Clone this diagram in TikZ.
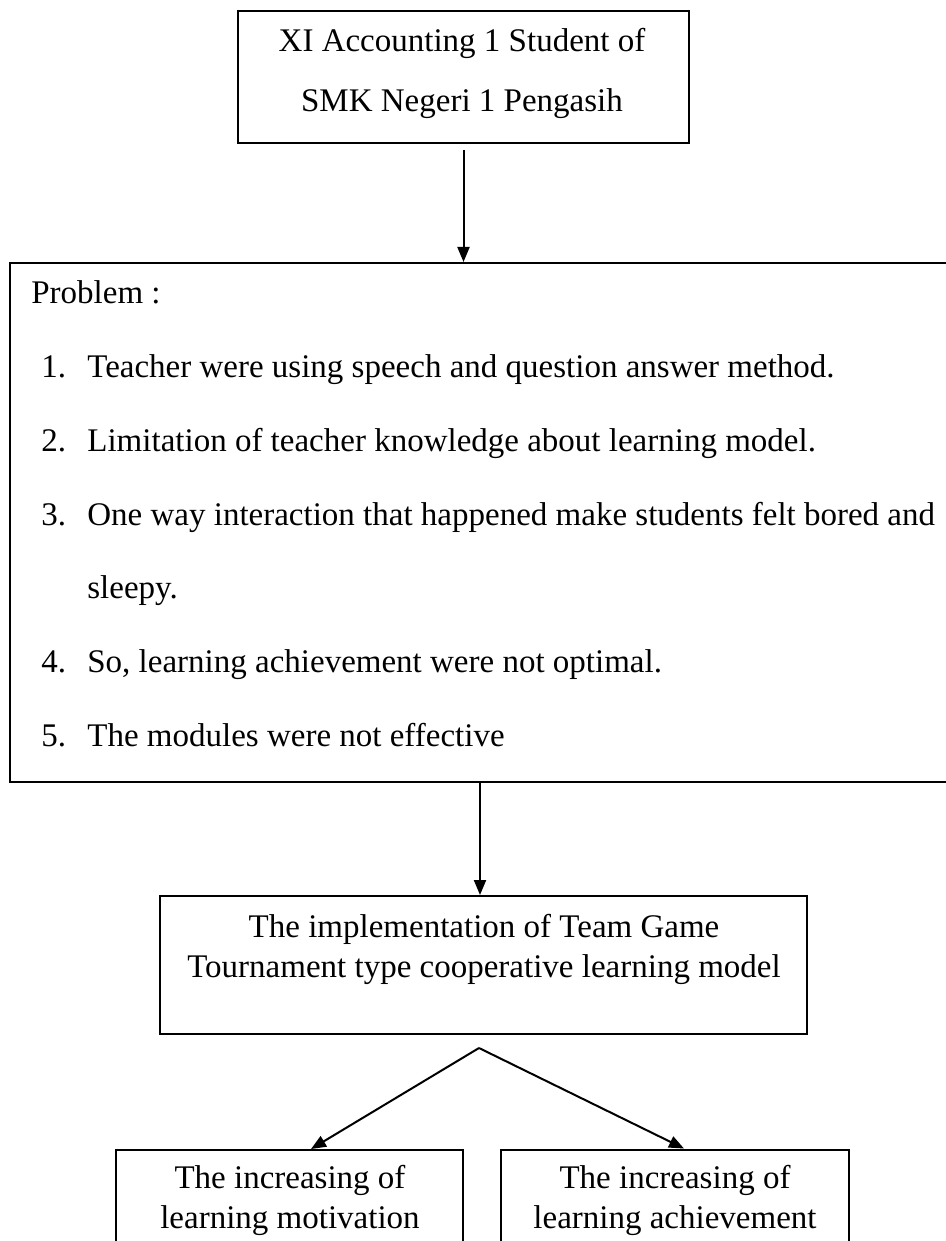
\documentclass[tikz,border=0pt]{standalone}
\usepackage{fontspec}
\setmainfont{Liberation Serif}
\usetikzlibrary{arrows.meta}
\begin{document}
\begin{tikzpicture}[x=0.5pt,y=-0.5pt,
  box/.style={draw=black,line width=1pt,inner sep=0pt},
  txt/.style={inner sep=0pt,font=\fontsize{16.5}{20}\selectfont},
  ctxt/.style={txt,anchor=base},
  ltxt/.style={txt,anchor=base west},
  arr/.style={line width=1pt,-{Triangle[length=7.5pt,width=6pt]}}]
\useasboundingbox (0,0) rectangle (946,1241);
% boxes
\node[box,minimum width=225.5pt,minimum height=66pt] (top) at (463.5,77) {};
\node[box,minimum width=470pt,minimum height=259.5pt] (prob) at (480,522.5) {};
\node[box,minimum width=323.5pt,minimum height=69pt] (impl) at (483.5,965) {};
\node[box,minimum width=173.5pt,minimum height=55pt] (lb) at (289.5,1205) {};
\node[box,minimum width=174pt,minimum height=55pt] (rb) at (675,1204.5) {};
% top text
\node[ctxt] (t1) at (462,52) {XI Accounting 1 Student of};
\node[ctxt] (t2) at (462,112) {SMK Negeri 1 Pengasih};
% problem text
\node[ltxt] (p0) at (31,303) {Problem :};
\node[ltxt] (n1) at (41,377) {1.};
\node[ltxt] (p1) at (87,377) {Teacher were using speech and question answer method.};
\node[ltxt] (n2) at (41,451) {2.};
\node[ltxt] (p2) at (87,451) {Limitation of teacher knowledge about learning model.};
\node[ltxt] (n3) at (41,525) {3.};
\node[ltxt] (p3) at (87,525) {One way interaction that happened make students felt bored and};
\node[ltxt] (p3b) at (87,598) {sleepy.};
\node[ltxt] (n4) at (41,672) {4.};
\node[ltxt] (p4) at (87,672) {So, learning achievement were not optimal.};
\node[ltxt] (n5) at (41,746) {5.};
\node[ltxt] (p5) at (87,746) {The modules were not effective};
% implementation text
\node[ctxt] (i1) at (484,937) {The implementation of Team Game};
\node[ctxt] (i2) at (484,977) {Tournament type cooperative learning model};
% bottom texts
\node[ctxt] (l1) at (290,1188) {The increasing of};
\node[ctxt] (l2) at (290,1228) {learning motivation};
\node[ctxt] (r1) at (675,1188) {The increasing of};
\node[ctxt] (r2) at (675,1228) {learning achievement};
% connectors
\draw[arr] ([yshift=-3pt]top.south) -- (top.south |- prob.north);
\draw[arr] (prob.south) -- (prob.south |- impl.north);
\coordinate (split) at (479,1048);
\draw[arr] (split) -- ([xshift=10.75pt]lb.north);
\draw[arr] (split) -- ([xshift=4.5pt]rb.north);
\end{tikzpicture}
\end{document}
